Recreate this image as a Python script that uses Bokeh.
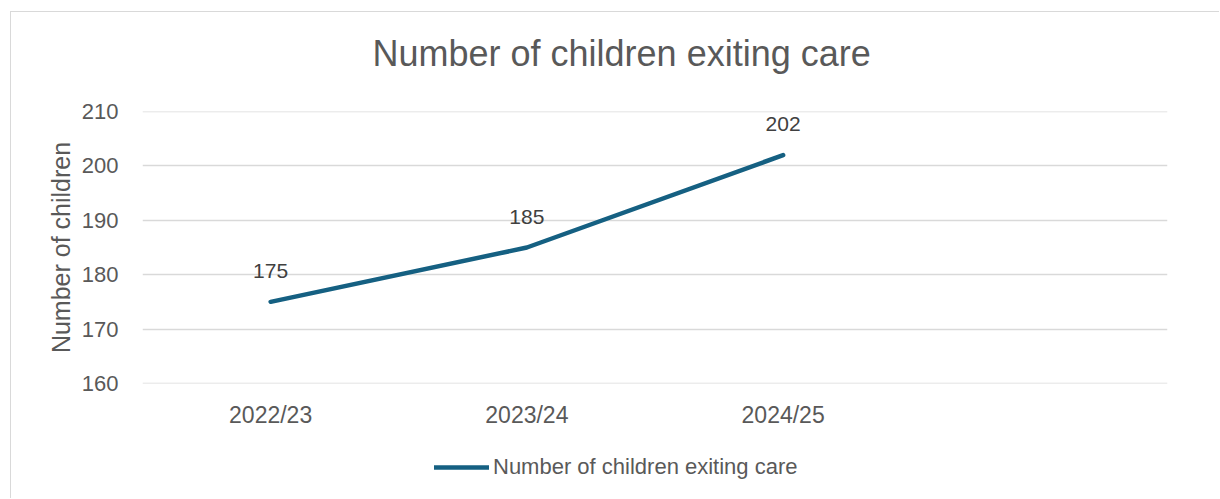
from bokeh.plotting import figure
from bokeh.layouts import column
from bokeh.models import ColumnDataSource, FactorRange, Range1d, FixedTicker, Legend, LegendItem, Title
from bokeh.core.properties import value
from bokeh.embed import file_html
from bokeh.resources import INLINE

# data
years = ["2022/23", "2023/24", "2024/25"]
children_exiting = [175, 185, 202]
all_factors = years + [" "]
y_ticks = [160, 170, 180, 190, 200, 210]
chart_title = "Number of children exiting care"
series_name = "Number of children exiting care"

FONT = "Liberation Sans"
GRAY = "#595959"
LINE = "#156082"
BORDER = "1px solid #d9d9d9"

src = ColumnDataSource(dict(x=years, y=children_exiting,
                            label=[str(v) for v in children_exiting]))

p = figure(width=1209, height=440, x_range=FactorRange(*all_factors),
           y_range=Range1d(159.97, 210.03), output_backend="svg", toolbar_location=None,
           min_border_left=131, min_border_right=53, min_border_top=98,
           min_border_bottom=69)
p.margin = (11, 0, 0, 10)
p.styles = {"border-left": BORDER, "border-top": BORDER}
p.outline_line_color = None
p.background_fill_color = "white"
p.border_fill_color = "white"

# chart title (outermost) with a small spacer between it and the plot area
p.title.text = chart_title
p.title.align = "left"
p.title.offset = 230
p.title.standoff = 37
p.title.text_font = FONT
p.title.text_font_size = "36px"
p.title.text_font_style = "normal"
p.title.text_color = GRAY
p.add_layout(Title(text=" ", text_font_size="8px", standoff=8), "above")

p.xgrid.grid_line_color = None
p.ygrid.grid_line_color = "#d9d9d9"
p.ygrid.grid_line_width = 1.5
p.yaxis.ticker = FixedTicker(ticks=y_ticks)

for ax in (p.xaxis[0], p.yaxis[0]):
    ax.axis_line_color = None
    ax.major_tick_line_color = None
    ax.minor_tick_line_color = None
    ax.major_label_text_font = FONT
    ax.major_label_text_color = GRAY
p.xaxis.major_label_text_font_size = "23px"
p.yaxis.major_label_text_font_size = "22px"
p.xaxis.major_label_standoff = 12
p.yaxis.major_label_standoff = 18
p.yaxis.axis_label = "Number of children"
p.yaxis.axis_label_text_font = FONT
p.yaxis.axis_label_text_font_size = "25px"
p.yaxis.axis_label_text_font_style = "normal"
p.yaxis.axis_label_text_color = GRAY
p.yaxis.axis_label_standoff = 4

p.line("x", "y", source=src, line_color=LINE, line_width=4.5, line_cap="round",
       line_join="round")
p.text("x", "y", text="label", source=src, text_align="center", text_baseline="middle",
       y_offset=-31, text_font=value(FONT), text_font_size="21px", text_color="#404040")

# legend strip below the chart (its series line lies outside this strip's range,
# so only the legend entry is visible)
pl = figure(width=1209, height=47, x_range=p.x_range, y_range=Range1d(0, 1),
            x_axis_type=None, y_axis_type=None, output_backend="svg", toolbar_location=None,
            min_border=0)
pl.margin = (0, 0, 0, 10)
pl.styles = {"border-left": BORDER}
pl.outline_line_color = None
pl.background_fill_color = "white"
pl.border_fill_color = "white"
pl.grid.visible = False
rl = pl.line("x", "y", source=src, line_color=LINE, line_width=4.5, line_cap="round")
legend = Legend(items=[LegendItem(label=series_name, renderers=[rl])],
                location=(292, 18), orientation="horizontal",
                padding=0, margin=0, border_line_color=None, background_fill_alpha=0,
                glyph_width=55, glyph_height=24, label_standoff=4,
                label_text_font=FONT, label_text_font_size="22px", label_text_color=GRAY)
pl.add_layout(legend)

layout = column(p, pl, spacing=0)
open("out.html", "w").write(file_html(layout, INLINE))
